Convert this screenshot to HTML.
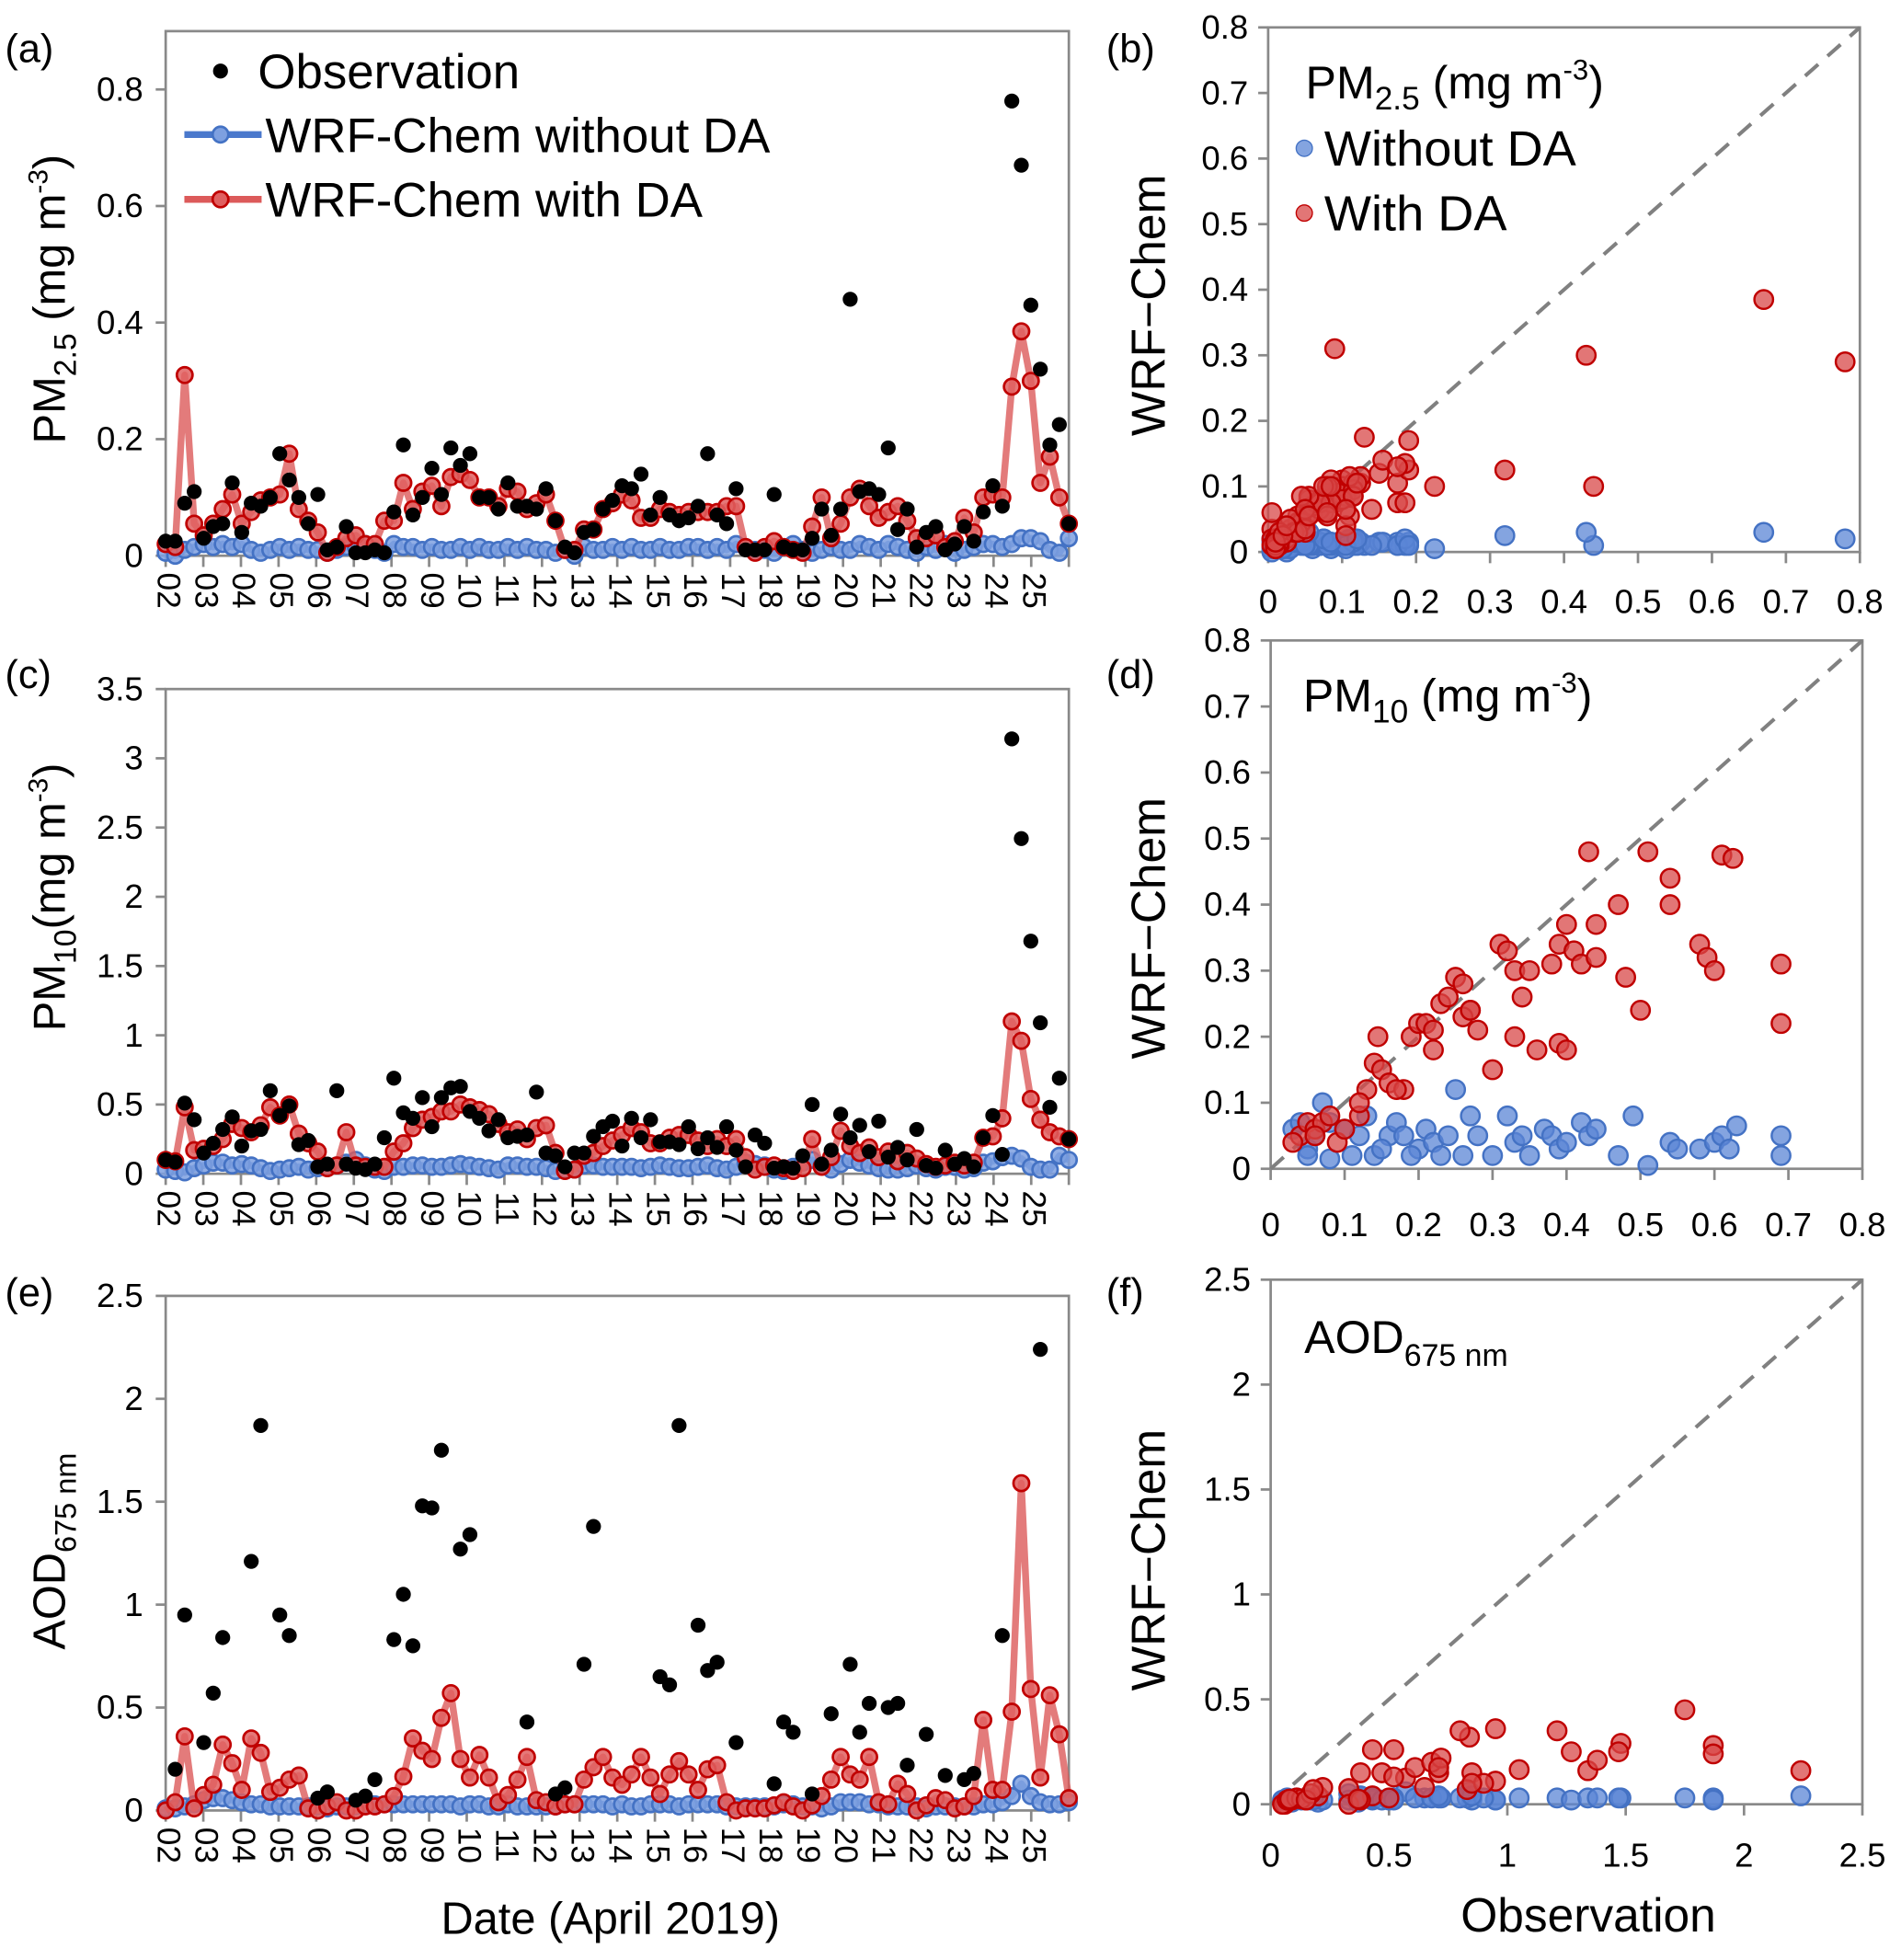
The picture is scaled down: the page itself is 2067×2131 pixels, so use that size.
<!DOCTYPE html>
<html><head><meta charset="utf-8"><style>
html,body{margin:0;padding:0;background:#fff}
svg{display:block;font-family:"Liberation Sans",sans-serif}
</style></head><body>
<svg id="fig" width="2067" height="2131" viewBox="0 0 1526 1573" preserveAspectRatio="none" xmlns="http://www.w3.org/2000/svg"></svg>
<script>
const dayLabels=['02','03','04','05','06','07','08','09','10','11','12','13','14','15','16','17','18','19','20','21','22','23','24','25'];
const pm25Obs=[.025,.025,.09,.11,.03,.05,.055,.125,.04,.09,.085,.1,.175,.13,.1,.055,.105,.01,.015,.05,.005,.005,.01,.005,.075,.19,.07,.1,.15,.105,.185,.155,.175,.1,.1,.08,.125,.085,.085,.08,.115,.06,.015,.005,.04,.045,.08,.095,.12,.115,.14,.07,.1,.07,.06,.065,.085,.175,.07,.055,.115,.01,.01,.01,.105,.015,.01,.01,.03,.08,.035,.08,.44,.11,.115,.105,.185,.045,.08,.015,.04,.05,.01,.02,.05,.025,.075,.12,.085,.78,.67,.43,.32,.19,.225,.055];
const pm25DA=[.02,.015,.31,.055,.035,.055,.08,.105,.055,.075,.095,.1,.105,.175,.08,.06,.04,.005,.015,.03,.035,.02,.02,.06,.06,.125,.08,.11,.12,.085,.135,.14,.13,.1,.1,.085,.115,.11,.08,.09,.105,.06,.01,.01,.045,.045,.08,.09,.105,.095,.065,.065,.08,.075,.07,.075,.075,.075,.075,.085,.085,.015,.005,.015,.025,.015,.01,.005,.05,.1,.03,.055,.1,.115,.085,.065,.075,.085,.06,.03,.03,.035,.015,.025,.065,.04,.1,.105,.1,.29,.385,.3,.125,.17,.1,.055];
const pm25NoDA=[.005,0,.01,.015,.02,.015,.02,.015,.02,.01,.005,.01,.015,.01,.015,.01,.01,.005,.01,.015,.015,.02,.01,.005,.02,.015,.015,.01,.015,.01,.01,.015,.01,.015,.01,.01,.015,.01,.015,.01,.01,.005,.01,0,.015,.01,.01,.015,.01,.015,.01,.01,.015,.01,.01,.015,.015,.01,.015,.01,.02,.015,.01,.01,.005,.015,.02,.01,.005,.01,.015,.01,.01,.02,.015,.01,.02,.015,.01,.005,.015,.01,.02,.005,.01,.015,.02,.02,.015,.02,.03,.03,.025,.01,.005,.03];
const pm10Obs=[.1,.085,.51,.39,.15,.22,.32,.41,.2,.31,.32,.6,.42,.49,.21,.24,.05,.07,.6,.07,.04,.03,.07,.26,.69,.44,.4,.55,.34,.55,.62,.63,.45,.4,.31,.39,.26,.27,.28,.59,.15,.13,.05,.15,.15,.27,.34,.38,.2,.4,.26,.39,.23,.23,.21,.34,.18,.26,.19,.34,.17,.05,.28,.22,.04,.05,.04,.13,.5,.07,.17,.43,.26,.35,.16,.38,.12,.19,.1,.32,.06,.04,.17,.07,.11,.05,.26,.42,.14,3.14,2.42,1.68,1.09,.48,.69,.25];
const pm10DA=[.1,.09,.48,.17,.18,.2,.25,.36,.33,.3,.35,.48,.42,.5,.29,.22,.16,.04,.06,.3,.06,.05,.05,.05,.16,.22,.33,.39,.41,.45,.45,.5,.48,.46,.43,.36,.3,.32,.25,.33,.35,.15,.02,.03,.13,.15,.2,.24,.28,.33,.3,.22,.22,.26,.28,.28,.24,.2,.25,.2,.25,.12,.03,.05,.06,.04,.02,.04,.25,.05,.12,.31,.2,.15,.19,.12,.16,.09,.15,.11,.07,.05,.06,.08,.06,.08,.26,.27,.4,1.1,.96,.54,.39,.3,.27,.25];
const pm10NoDA=[.03,.02,.01,.04,.06,.08,.08,.06,.07,.06,.04,.02,.03,.04,.05,.03,.04,.05,.06,.08,.1,.06,.03,.02,.05,.05,.06,.06,.05,.05,.06,.07,.06,.05,.04,.03,.06,.06,.05,.05,.04,.02,.03,.03,.06,.06,.05,.05,.05,.05,.04,.05,.06,.05,.04,.04,.05,.06,.04,.03,.05,.08,.07,.06,.03,.02,.05,.08,.1,.06,.03,.07,.1,.08,.06,.04,.03,.03,.04,.06,.04,.03,.05,.05,.03,.04,.08,.09,.12,.13,.11,.05,.03,.03,.13,.1];
const aodObs=[null,.2,.95,null,.33,.57,.84,null,null,1.21,1.87,null,.95,.85,null,null,.06,.09,null,null,.05,.07,.15,null,.83,1.05,.8,1.48,1.47,1.75,null,1.27,1.34,null,null,null,null,null,.43,null,null,.08,.11,null,.71,1.38,null,null,null,null,null,null,.65,.61,1.87,null,.9,.68,.72,null,.33,null,null,null,.13,.43,.38,null,.08,null,.47,null,.71,.38,.52,null,.5,.52,.22,null,.37,null,.17,null,.15,.18,null,null,.85,null,null,null,2.24,null,null,null];
const aodDA=[0,.04,.36,.01,.075,.125,.32,.23,.1,.35,.28,.09,.11,.15,.17,.01,0,.02,.04,0,0,.02,.02,.03,.07,.165,.35,.29,.25,.45,.57,.25,.16,.27,.16,.04,.075,.15,.26,.05,.04,.02,.03,.03,.15,.21,.26,.16,.125,.175,.26,.16,.08,.175,.24,.175,.1,.2,.22,.04,0,.01,.01,.01,.025,.04,.02,0,.025,.07,.15,.26,.175,.15,.26,.04,.03,.13,.08,0,.025,.06,.05,.01,.02,.07,.44,.1,.1,.48,1.59,.59,.16,.56,.37,.06];
const aodNoDA=[.01,.01,.02,.03,.05,.06,.06,.05,.04,.03,.03,.02,.02,.02,.02,.02,.02,.01,.02,.02,.02,.03,.03,.03,.03,.03,.03,.03,.03,.03,.03,.02,.03,.03,.02,.02,.03,.02,.02,.02,.02,.02,.03,.03,.03,.03,.03,.02,.03,.02,.02,.03,.03,.03,.02,.03,.03,.03,.03,.02,.02,.02,.02,.02,.02,.03,.03,.02,.02,.01,.02,.04,.04,.04,.03,.03,.02,.02,.02,.02,.01,.02,.02,.02,.02,.02,.03,.03,.04,.07,.13,.07,.04,.03,.03,.04];
const pm10ScObsDA=[.04,.05,.06,.07,.08,.03,.06,.09,.1,.12,.13,.14,.145,.15,.16,.18,.19,.2,.21,.22,.23,.24,.25,.26,.27,.26,.28,.3,.31,.32,.33,.34,.35,.33,.36,.38,.39,.4,.41,.42,.43,.44,.39,.4,.44,.47,.48,.5,.51,.54,.54,.58,.59,.6,.61,.625,.69,.69,.27,.22,.17,.12];
const pm10ScModDA=[.05,.07,.06,.07,.08,.04,.05,.04,.06,.08,.12,.16,.2,.15,.13,.12,.2,.22,.22,.21,.25,.26,.29,.28,.24,.23,.21,.15,.34,.33,.3,.26,.3,.2,.18,.31,.34,.37,.33,.31,.48,.37,.19,.18,.32,.4,.29,.24,.48,.44,.4,.34,.32,.3,.475,.47,.31,.22,.24,.18,.12,.1];
const pm10ScObsNoDA=[.03,.04,.05,.06,.07,.08,.1,.12,.13,.14,.16,.17,.18,.2,.21,.22,.24,.25,.26,.27,.28,.3,.32,.33,.34,.35,.37,.38,.39,.4,.42,.43,.44,.47,.49,.51,.54,.55,.58,.6,.61,.62,.63,.69,.69,.05,.08,.11,.15,.19,.23];
const pm10ScModNoDA=[.06,.07,.03,.05,.1,.07,.06,.05,.08,.02,.05,.07,.05,.03,.06,.04,.05,.12,.02,.08,.05,.02,.08,.04,.05,.02,.06,.05,.03,.04,.07,.05,.06,.02,.08,.005,.04,.03,.03,.04,.05,.03,.065,.05,.02,.02,.015,.02,.03,.02,.02];
const tsTicksA=[0,.2,.4,.6,.8], tsTicksC=[0,.5,1,1.5,2,2.5,3,3.5], tsTicksE=[0,.5,1,1.5,2,2.5];
const scTicks08=[0,.1,.2,.3,.4,.5,.6,.7,.8], scTicks25=[0,.5,1,1.5,2,2.5];

const svg=document.getElementById('fig');
const NS='http://www.w3.org/2000/svg';
function mk(tag,attrs,parent){const e=document.createElementNS(NS,tag);for(const k in attrs)e.setAttribute(k,attrs[k]);(parent||svg).appendChild(e);return e;}
const GRAY='#898989';
const fmt=v=>String(v);

function tsPanel(name,box,ymax,ticks,obs,noda,da){
  const g=mk('g',{});
  
  
  const X=i=>box.x0+i*(box.x1-box.x0)/(obs.length-1);
  const Y=v=>box.y1-(v/ymax)*(box.y1-box.y0);
  let r=mk('rect',{x:box.x0,y:box.y0,width:box.x1-box.x0,height:box.y1-box.y0,fill:'none',stroke:GRAY,'stroke-width':2},g);
  
  
  ticks.forEach(t=>{
    let l=mk('line',{x1:box.x0-8,x2:box.x0,y1:Y(t),y2:Y(t),stroke:GRAY,'stroke-width':2},g);
    
    
    let tx=mk('text',{x:box.x0-18,y:Y(t)+9,'text-anchor':'end','font-size':27},g);
    tx.textContent=fmt(t);
    
    
  });
  const dx=(box.x1-box.x0)/24;
  for(let d=0;d<=24;d++){
    let l=mk('line',{x1:box.x0+d*dx,x2:box.x0+d*dx,y1:box.y1,y2:box.y1+9,stroke:GRAY,'stroke-width':2},g);
    
    
  }
  dayLabels.forEach((lab,d)=>{
    const x=box.x0+d*dx+2, y=box.y1+28;
    let tx=mk('text',{x:x,y:y,'text-anchor':'middle','dominant-baseline':'central','font-size':26,transform:`rotate(90 ${x} ${y})`},g);
    tx.textContent=lab;
    
    
  });
  function series(vals,lineC,fillC,strokeC,nm){
    const pts=vals.map((v,i)=>`${X(i)},${Y(v)}`).join(' ');
    let pl=mk('polyline',{points:pts,fill:'none',stroke:lineC,'stroke-width':5.5,'stroke-opacity':.8,'stroke-linejoin':'round'},g);
    
    
    vals.forEach((v,i)=>{
      let c=mk('circle',{cx:X(i),cy:Y(v),r:6.3,fill:fillC,'fill-opacity':.85,stroke:strokeC,'stroke-width':2},g);
      
      
    });
  }
  series(noda,'#4a78cc','#7ea0e0','#4472c4','without-da');
  series(da,'#dc5a5a','#e06060','#c00000','with-da');
  obs.forEach((v,i)=>{
    if(v===null)return;
    let c=mk('circle',{cx:X(i),cy:Y(v),r:6,fill:'#000'},g);
    
    
  });
}

function scPanel(name,box,max,ticks,xs1,ys1,xs2,ys2,labelY){
  const g=mk('g',{});
  
  
  const X=v=>box.x0+v/max*(box.x1-box.x0);
  const Y=v=>box.y1-v/max*(box.y1-box.y0);
  let r=mk('rect',{x:box.x0,y:box.y0,width:box.x1-box.x0,height:box.y1-box.y0,fill:'none',stroke:GRAY,'stroke-width':2},g);
  
  
  ticks.forEach(t=>{
    let l=mk('line',{x1:box.x0-8,x2:box.x0,y1:Y(t),y2:Y(t),stroke:GRAY,'stroke-width':2},g);
    
    
    let tx=mk('text',{x:box.x0-16,y:Y(t)+9,'text-anchor':'end','font-size':27},g);
    tx.textContent=fmt(t);
    
    
    let l2=mk('line',{x1:X(t),x2:X(t),y1:box.y1,y2:box.y1+9,stroke:GRAY,'stroke-width':2},g);
    
    
    let tx2=mk('text',{x:X(t),y:labelY,'text-anchor':'middle','font-size':27},g);
    tx2.textContent=fmt(t);
    
    
  });
  let dl=mk('line',{x1:X(0),y1:Y(0),x2:X(max),y2:Y(max),stroke:'#808080','stroke-width':3,'stroke-dasharray':'14 10'},g);
  
  
  xs1.forEach((v,i)=>{
    if(v===null)return;
    let c=mk('circle',{cx:X(v),cy:Y(ys1[i]),r:7.5,fill:'#5b86d6','fill-opacity':.75,stroke:'#4472c4','stroke-width':1.8},g);
    
    
  });
  xs2.forEach((v,i)=>{
    if(v===null)return;
    let c=mk('circle',{cx:X(v),cy:Y(ys2[i]),r:7.5,fill:'#d84848','fill-opacity':.75,stroke:'#c00000','stroke-width':1.8},g);
    
    
  });
}

tsPanel('panel-a-pm25-timeseries',{x0:133,x1:858,y0:25,y1:446},0.9,tsTicksA,pm25Obs,pm25NoDA,pm25DA);
tsPanel('panel-c-pm10-timeseries',{x0:133,x1:858,y0:553,y1:942},3.5,tsTicksC,pm10Obs,pm10NoDA,pm10DA);
tsPanel('panel-e-aod-timeseries',{x0:133,x1:858,y0:1040,y1:1453},2.5,tsTicksE,aodObs,aodNoDA,aodDA);
scPanel('panel-b-pm25-scatter',{x0:1018,x1:1493,y0:22,y1:443},0.8,scTicks08,pm25Obs,pm25NoDA,pm25Obs,pm25DA,492);
scPanel('panel-d-pm10-scatter',{x0:1020,x1:1495,y0:514,y1:938},0.8,scTicks08,pm10ScObsNoDA,pm10ScModNoDA,pm10ScObsDA,pm10ScModDA,992);
scPanel('panel-f-aod-scatter',{x0:1020,x1:1495,y0:1027,y1:1448},2.5,scTicks25,aodObs,aodNoDA,aodObs,aodDA,1498);
</script>
<script>
(function(){
const svg=document.getElementById('fig');
const s=`
<g font-size="32">
<text x="4" y="50">(a)</text>
<text x="888" y="50">(b)</text>
<text x="4" y="552">(c)</text>
<text x="888" y="552">(d)</text>
<text x="4" y="1048">(e)</text>
<text x="888" y="1048">(f)</text>
</g>
<text font-size="36" transform="translate(52 240) rotate(-90)" text-anchor="middle">PM<tspan font-size="25" dy="9">2.5</tspan><tspan dy="-9"> (mg m</tspan><tspan font-size="22" dy="-14">-3</tspan><tspan dy="14">)</tspan></text>
<text font-size="36" transform="translate(52 720) rotate(-90)" text-anchor="middle">PM<tspan font-size="25" dy="9">10</tspan><tspan dy="-9">(mg m</tspan><tspan font-size="22" dy="-14">-3</tspan><tspan dy="14">)</tspan></text>
<text font-size="36" transform="translate(52 1245) rotate(-90)" text-anchor="middle">AOD<tspan font-size="24" dy="9">675 nm</tspan></text>
<text font-size="38" transform="translate(935 245) rotate(-90)" text-anchor="middle">WRF−Chem</text>
<text font-size="38" transform="translate(935 745) rotate(-90)" text-anchor="middle">WRF−Chem</text>
<text font-size="38" transform="translate(935 1252) rotate(-90)" text-anchor="middle">WRF−Chem</text>
<text font-size="36" x="490" y="1552" text-anchor="middle">Date (April 2019)</text>
<text font-size="38" x="1275" y="1550" text-anchor="middle">Observation</text>
<g font-size="39">
<circle cx="177" cy="57" r="6" fill="#000"/>
<text x="207" y="71">Observation</text>
<line x1="148" y1="108" x2="210" y2="108" stroke="#4a78cc" stroke-width="5.5"/>
<circle cx="177" cy="108" r="6.3" fill="#7ea0e0" stroke="#4472c4" stroke-width="2"/>
<text x="213" y="122">WRF-Chem without DA</text>
<line x1="148" y1="160" x2="210" y2="160" stroke="#dc5a5a" stroke-width="5.5"/>
<circle cx="177" cy="160" r="6.3" fill="#e06060" stroke="#c00000" stroke-width="2"/>
<text x="213" y="174">WRF-Chem with DA</text>
</g>
<g font-size="40">
<text x="1048" y="79" font-size="37">PM<tspan font-size="26" dy="9">2.5</tspan><tspan dy="-9"> (mg m</tspan><tspan font-size="23" dy="-15">-3</tspan><tspan dy="15">)</tspan></text>
<circle cx="1047" cy="119" r="6.5" fill="#5b86d6" fill-opacity=".75" stroke="#4472c4"/>
<text x="1063" y="133">Without DA</text>
<circle cx="1047" cy="171" r="6.5" fill="#d84848" fill-opacity=".75" stroke="#c00000"/>
<text x="1063" y="185">With DA</text>
</g>
<text font-size="37" x="1046" y="571">PM<tspan font-size="26" dy="9">10</tspan><tspan dy="-9"> (mg m</tspan><tspan font-size="23" dy="-15">-3</tspan><tspan dy="15">)</tspan></text>
<text font-size="37" x="1047" y="1086">AOD<tspan font-size="25" dy="10">675 nm</tspan></text>`;
svg.insertAdjacentHTML('beforeend',s);
})();
</script>
</body></html>
